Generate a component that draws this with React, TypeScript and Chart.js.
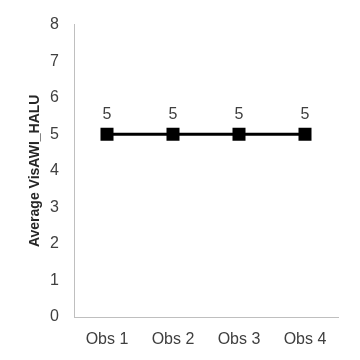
import React, { useEffect, useRef } from "react";
import { Chart, registerables } from "chart.js";

Chart.register(...registerables);

const categories = ["Obs 1", "Obs 2", "Obs 3", "Obs 4"];
const values = [5, 5, 5, 5];
const yTitle = "Average VisAWI_HALU";
const yMin = 0;
const yMax = 8;
const yStep = 1;

const FONT = "'Liberation Sans', Arial, sans-serif";

const labelPlugin = {
  id: "valueLabels",
  afterDatasetsDraw(chart: any) {
    const ctx = chart.ctx;
    const meta = chart.getDatasetMeta(0);
    ctx.save();
    ctx.fillStyle = "#404040";
    ctx.font = `16px ${FONT}`;
    ctx.textAlign = "center";
    ctx.textBaseline = "middle";
    meta.data.forEach((pt: any, i: number) => {
      ctx.fillText(String(values[i]), pt.x, pt.y - 20);
    });
    ctx.restore();
  },
};

export default function App() {
  const ref = useRef<HTMLCanvasElement>(null);
  useEffect(() => {
    const chart = new Chart(ref.current!, {
      type: "line",
      data: {
        labels: categories,
        datasets: [
          {
            data: values,
            borderColor: "#000000",
            backgroundColor: "#000000",
            borderWidth: 3,
            pointStyle: "rect",
            pointRadius: 9.2,
            pointBorderWidth: 0,
            pointBackgroundColor: "#000000",
            tension: 0,
          },
        ],
      },
      options: {
        responsive: false,
        animation: false,
        events: [],
        layout: { padding: { top: 23, right: 22, left: 0, bottom: 0 } },
        plugins: {
          legend: { display: false },
          tooltip: { enabled: false },
        },
        scales: {
          x: {
            offset: true,
            grid: { display: false, drawTicks: false },
            border: { display: true, color: "#bfbfbf", width: 1 },
            ticks: {
              color: "#404040",
              font: { family: FONT, size: 16 },
              padding: 13,
              maxRotation: 0,
            },
            afterFit(scale: any) {
              scale.height = 43;
            },
          },
          y: {
            min: yMin,
            max: yMax,
            grid: { display: false, drawTicks: false },
            border: { display: true, color: "#bfbfbf", width: 1 },
            ticks: {
              stepSize: yStep,
              color: "#404040",
              font: { family: FONT, size: 16 },
              padding: 15,
            },
            title: {
              display: true,
              text: yTitle,
              color: "#262626",
              font: { family: FONT, size: 14, weight: "bold" },
              padding: { top: 27, bottom: 0 },
            },
            afterFit(scale: any) {
              scale.width = 74;
            },
          },
        },
      },
      plugins: [labelPlugin],
    });
    return () => chart.destroy();
  }, []);
  return (
    <div style={{ position: "fixed", left: 0, top: 0, width: 360, height: 360, background: "#fff" }}>
      <canvas ref={ref} width={360} height={360} style={{ width: 360, height: 360 }} />
    </div>
  );
}
